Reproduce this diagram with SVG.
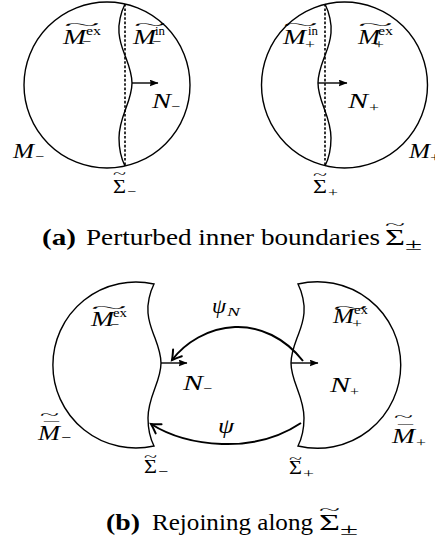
<svg xmlns="http://www.w3.org/2000/svg" width="435" height="542" viewBox="0 0 435 542">
<style>
.m{font-family:"Liberation Serif","Times New Roman",serif;font-style:italic;font-size:20px;fill:#000}
.r{font-family:"Liberation Serif","Times New Roman",serif;font-size:19px;fill:#000}
.s{font-family:"Liberation Serif","Times New Roman",serif;font-size:13px;fill:#000}
.si{font-family:"Liberation Serif","Times New Roman",serif;font-style:italic;font-size:13px;fill:#000}
.t{font-family:"Liberation Serif","Times New Roman",serif;font-size:13px;fill:#000}
.cap{font-family:"Liberation Serif","Times New Roman",serif;font-size:23px;fill:#000}
.capb{font-family:"Liberation Serif","Times New Roman",serif;font-size:23px;font-weight:bold;fill:#000}
.shape{fill:none;stroke:#000;stroke-width:1.4}
.dash{fill:none;stroke:#000;stroke-width:1.6;stroke-dasharray:2.6 1.8}
.nvec{fill:none;stroke:#000;stroke-width:1.4}
.map{fill:none;stroke:#000;stroke-width:2}
</style>
<defs>
<marker id="tri" markerUnits="userSpaceOnUse" markerWidth="9" markerHeight="7" viewBox="0 0 9 7" refX="8.5" refY="3.5" orient="auto">
<path d="M0,0 L9,3.5 L0,7 Q2,3.5 0,0 Z" fill="#000"/>
</marker>
<marker id="open" markerUnits="userSpaceOnUse" markerWidth="14" markerHeight="14" viewBox="-11 -7 14 14" refX="0" refY="0" orient="auto">
<path d="M-9,-5.5 Q-3,-1.5 0,0 Q-3,1.5 -9,5.5" fill="none" stroke="#000" stroke-width="2" stroke-linecap="round"/>
</marker>
</defs>

<g id="node-Mminus">
<circle class="shape" cx="107" cy="85" r="83"/>
<line class="dash" x1="125" y1="4" x2="125" y2="166"/>
<path class="shape" d="M125,4 C121,12 118,24 119,33 C120,44 123,50 126,58 C129,66 132,74 132,83 C132,92 129,100 126,108 C123,116 119,126 119,138 C119,148 121,158 125,166"/>
</g>
<g id="node-Mplus">
<circle class="shape" cx="344.5" cy="85" r="83"/>
<line class="dash" x1="325" y1="4" x2="325" y2="166"/>
<path class="shape" d="M325,4 C329,12 332,24 331,33 C330,44 327,50 324,58 C321,66 318,74 318,83 C318,92 321,100 324,108 C327,116 331,126 331,138 C331,148 329,158 325,166"/>
</g>
<g id="node-Mbar-minus">
<path class="shape" d="M154,284 A83,83 0 1 0 154,446 C150,438 148,428 148,418 C148,406 152,396 155,388 C158,380 161,372 161,363 C161,354 158,346 155,338 C152,330 149,324 148,313 C147,304 150,292 154,284 Z"/>
</g>
<g id="node-Mbar-plus">
<path class="shape" d="M298,284 A83.3,83.3 0 1 1 298,446 C302,438 304,428 304,418 C304,406 300,396 297,388 C294,380 291,372 291,363 C291,354 294,346 297,338 C300,330 303,324 304,313 C305,304 302,292 298,284 Z"/>
</g>

<g id="connectors">
<line class="nvec" x1="132" y1="83" x2="158" y2="83" marker-end="url(#tri)"/>
<line class="nvec" x1="318" y1="83" x2="347" y2="83" marker-end="url(#tri)"/>
<line class="nvec" x1="161" y1="363" x2="187" y2="363" marker-end="url(#tri)"/>
<line class="nvec" x1="291" y1="363" x2="318" y2="363" marker-end="url(#tri)"/>
<path class="map" d="M303,361 C285,338 260,326 235,327 C208,328 185,343 172,360" marker-end="url(#open)"/>
<path class="map" d="M301,423 C280,437 252,445 222,444 C195,443 170,436 151,424" marker-end="url(#open)"/>
</g>

<g id="labels-a">
<text class="m" x="63" y="44" textLength="23" lengthAdjust="spacingAndGlyphs">M</text>
<text class="s" x="86" y="35" textLength="15" lengthAdjust="spacingAndGlyphs">ex</text>
<text class="s" x="82" y="46" textLength="9" lengthAdjust="spacingAndGlyphs">−</text>
<text class="t" x="64" y="29" textLength="36" lengthAdjust="spacingAndGlyphs">~</text>

<text class="m" x="133" y="44" textLength="23" lengthAdjust="spacingAndGlyphs">M</text>
<text class="s" x="155" y="35" textLength="10" lengthAdjust="spacingAndGlyphs">in</text>
<text class="s" x="152" y="46" textLength="9" lengthAdjust="spacingAndGlyphs">−</text>
<text class="t" x="134" y="29" textLength="32" lengthAdjust="spacingAndGlyphs">~</text>

<text class="m" x="152" y="108" textLength="19" lengthAdjust="spacingAndGlyphs">N</text>
<text class="s" x="171" y="111" textLength="9" lengthAdjust="spacingAndGlyphs">−</text>

<text class="m" x="13" y="158" textLength="21" lengthAdjust="spacingAndGlyphs">M</text>
<text class="s" x="35" y="161" textLength="9" lengthAdjust="spacingAndGlyphs">−</text>

<text class="r" x="113" y="193" textLength="13" lengthAdjust="spacingAndGlyphs">Σ</text>
<text class="s" x="127" y="196" textLength="9" lengthAdjust="spacingAndGlyphs">−</text>
<text class="t" x="113" y="178" textLength="13" lengthAdjust="spacingAndGlyphs">~</text>

<text class="m" x="283" y="44" textLength="23" lengthAdjust="spacingAndGlyphs">M</text>
<text class="s" x="308" y="35" textLength="10" lengthAdjust="spacingAndGlyphs">in</text>
<text class="s" x="305" y="49" textLength="10" lengthAdjust="spacingAndGlyphs">+</text>
<text class="t" x="283" y="29" textLength="35" lengthAdjust="spacingAndGlyphs">~</text>

<text class="m" x="358" y="44" textLength="22" lengthAdjust="spacingAndGlyphs">M</text>
<text class="s" x="378" y="35" textLength="15" lengthAdjust="spacingAndGlyphs">ex</text>
<text class="s" x="374" y="49" textLength="10" lengthAdjust="spacingAndGlyphs">+</text>
<text class="t" x="358" y="29" textLength="35" lengthAdjust="spacingAndGlyphs">~</text>

<text class="m" x="348" y="108" textLength="20" lengthAdjust="spacingAndGlyphs">N</text>
<text class="s" x="369" y="112" textLength="10" lengthAdjust="spacingAndGlyphs">+</text>

<text class="m" x="409" y="158" textLength="21" lengthAdjust="spacingAndGlyphs">M</text>
<text class="s" x="430" y="162" textLength="10" lengthAdjust="spacingAndGlyphs">+</text>

<text class="r" x="313" y="193" textLength="14" lengthAdjust="spacingAndGlyphs">Σ</text>
<text class="s" x="328" y="197" textLength="10" lengthAdjust="spacingAndGlyphs">+</text>
<text class="t" x="313" y="179" textLength="14" lengthAdjust="spacingAndGlyphs">~</text>
</g>

<g id="caption-a">
<text class="capb" x="42" y="245" textLength="34" lengthAdjust="spacingAndGlyphs">(a)</text>
<text class="cap" x="86" y="245" textLength="294" lengthAdjust="spacingAndGlyphs">Perturbed inner boundaries</text>
<text class="cap" x="385" y="245" textLength="20" lengthAdjust="spacingAndGlyphs">Σ</text>
<text class="s" x="405" y="250" style="font-size:16px" textLength="17" lengthAdjust="spacingAndGlyphs">±</text>
<text class="t" x="385" y="229" textLength="20" lengthAdjust="spacingAndGlyphs">~</text>
</g>

<g id="labels-b">
<text class="m" x="91" y="326" textLength="23" lengthAdjust="spacingAndGlyphs">M</text>
<text class="s" x="113" y="317" textLength="14" lengthAdjust="spacingAndGlyphs">ex</text>
<text class="s" x="110" y="329" textLength="9" lengthAdjust="spacingAndGlyphs">−</text>
<text class="t" x="91" y="312" textLength="36" lengthAdjust="spacingAndGlyphs">~</text>

<text class="m" x="183" y="390" textLength="20" lengthAdjust="spacingAndGlyphs">N</text>
<text class="s" x="203" y="393" textLength="9" lengthAdjust="spacingAndGlyphs">−</text>

<text class="m" x="38" y="440" textLength="22" lengthAdjust="spacingAndGlyphs">M</text>
<text class="s" x="61" y="442" textLength="10" lengthAdjust="spacingAndGlyphs">−</text>
<text class="s" x="44" y="431" textLength="15" lengthAdjust="spacingAndGlyphs">¯</text>
<text class="t" x="40" y="419" textLength="19" lengthAdjust="spacingAndGlyphs">~</text>

<text class="r" x="144" y="473" textLength="13" lengthAdjust="spacingAndGlyphs">Σ</text>
<text class="s" x="158" y="476" textLength="10" lengthAdjust="spacingAndGlyphs">−</text>
<text class="t" x="144" y="461" textLength="13" lengthAdjust="spacingAndGlyphs">~</text>

<text class="m" x="333" y="323" textLength="21" lengthAdjust="spacingAndGlyphs">M</text>
<text class="s" x="354" y="314" textLength="14" lengthAdjust="spacingAndGlyphs">ex</text>
<text class="s" x="352" y="328" textLength="10" lengthAdjust="spacingAndGlyphs">+</text>
<text class="t" x="333" y="312" textLength="35" lengthAdjust="spacingAndGlyphs">~</text>

<text class="m" x="330" y="392" textLength="20" lengthAdjust="spacingAndGlyphs">N</text>
<text class="s" x="350" y="396" textLength="9" lengthAdjust="spacingAndGlyphs">+</text>

<text class="m" x="392" y="443" textLength="23" lengthAdjust="spacingAndGlyphs">M</text>
<text class="s" x="416" y="447" textLength="10" lengthAdjust="spacingAndGlyphs">+</text>
<text class="s" x="398" y="434" textLength="15" lengthAdjust="spacingAndGlyphs">¯</text>
<text class="t" x="394" y="421" textLength="19" lengthAdjust="spacingAndGlyphs">~</text>

<text class="r" x="289" y="474" textLength="13" lengthAdjust="spacingAndGlyphs">Σ</text>
<text class="s" x="303" y="478" textLength="11" lengthAdjust="spacingAndGlyphs">+</text>
<text class="t" x="289" y="463" textLength="13" lengthAdjust="spacingAndGlyphs">~</text>

<text class="m" x="212" y="313" textLength="14" lengthAdjust="spacingAndGlyphs">ψ</text>
<text class="si" x="227" y="316" textLength="13" lengthAdjust="spacingAndGlyphs">N</text>

<text class="m" x="218" y="433" textLength="16" lengthAdjust="spacingAndGlyphs">ψ</text>
</g>

<g id="caption-b">
<text class="capb" x="106" y="530" textLength="34" lengthAdjust="spacingAndGlyphs">(b)</text>
<text class="cap" x="152" y="530" textLength="161" lengthAdjust="spacingAndGlyphs">Rejoining along</text>
<text class="cap" x="319" y="530" textLength="21" lengthAdjust="spacingAndGlyphs">Σ</text>
<text class="s" x="340" y="535" style="font-size:16px" textLength="18" lengthAdjust="spacingAndGlyphs">±</text>
<text class="t" x="319" y="514" textLength="21" lengthAdjust="spacingAndGlyphs">~</text>
</g>
</svg>
